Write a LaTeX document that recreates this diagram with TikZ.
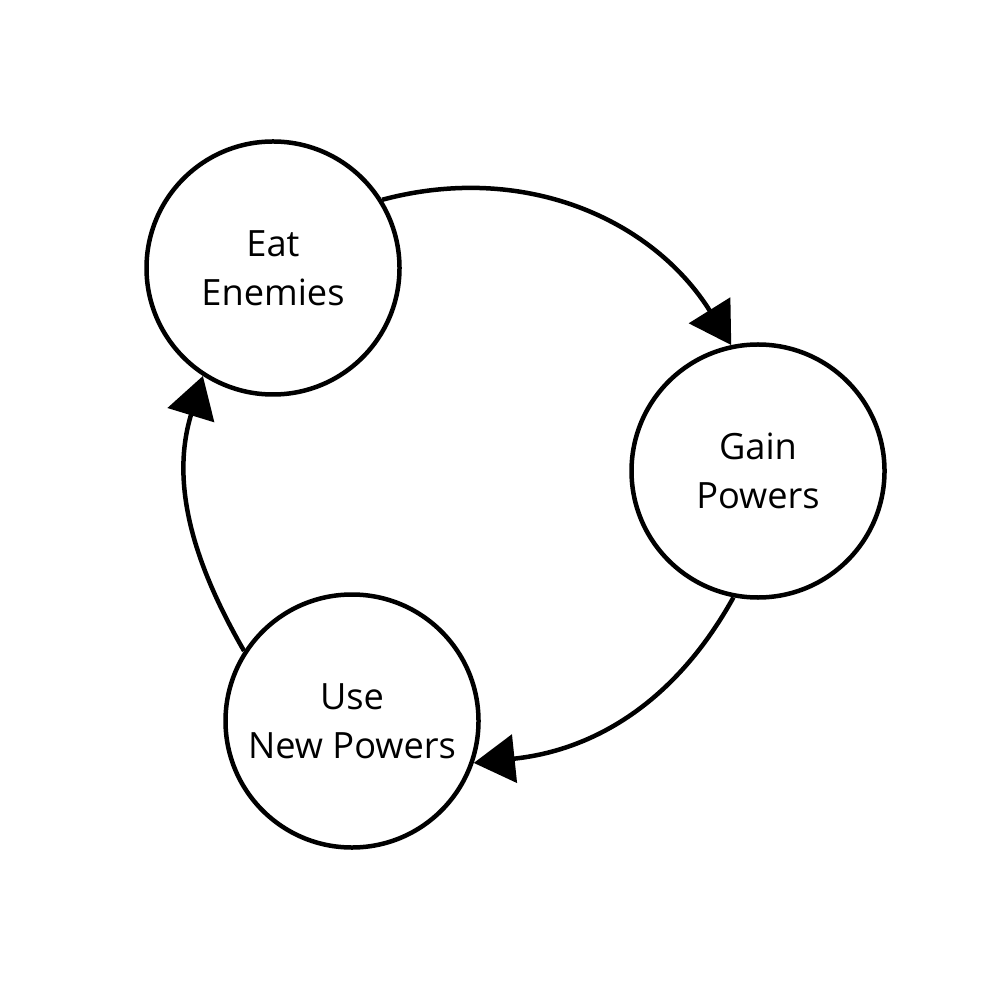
\documentclass[tikz,border=0pt]{standalone}
\usepackage{fontspec}
\setmainfont{Open Sans}
\usepackage{tikz}
\usetikzlibrary{arrows.meta, positioning}

\begin{document}
\begin{tikzpicture}[
    stage/.style={circle, draw=black, line width=0.045cm, minimum size=2.53cm, inner sep=0pt, align=center, font=\fontsize{10.3pt}{14pt}\selectfont},
    flow/.style={line width=0.045cm, -{Triangle[length=0.41cm, width=0.48cm]}}
]
\useasboundingbox (0,0) rectangle (10,-10);

% Cycle stages
\node[stage] (eat) at (2.73, -2.68) {Eat\\Enemies};
\node[stage] (gain) at (7.58, -4.71) {Gain\\Powers};
\node[stage] (use) at (3.52, -7.21) {Use\\New Powers};

% Cycle arrows
\draw[flow] (eat.32) to[out=15, in=122] (gain.102);
\draw[flow] (gain.259) to[out=241, in=6] (use.-19);
\draw[flow] (use.147) to[out=120, in=253] (eat.237);
\end{tikzpicture}
\end{document}
